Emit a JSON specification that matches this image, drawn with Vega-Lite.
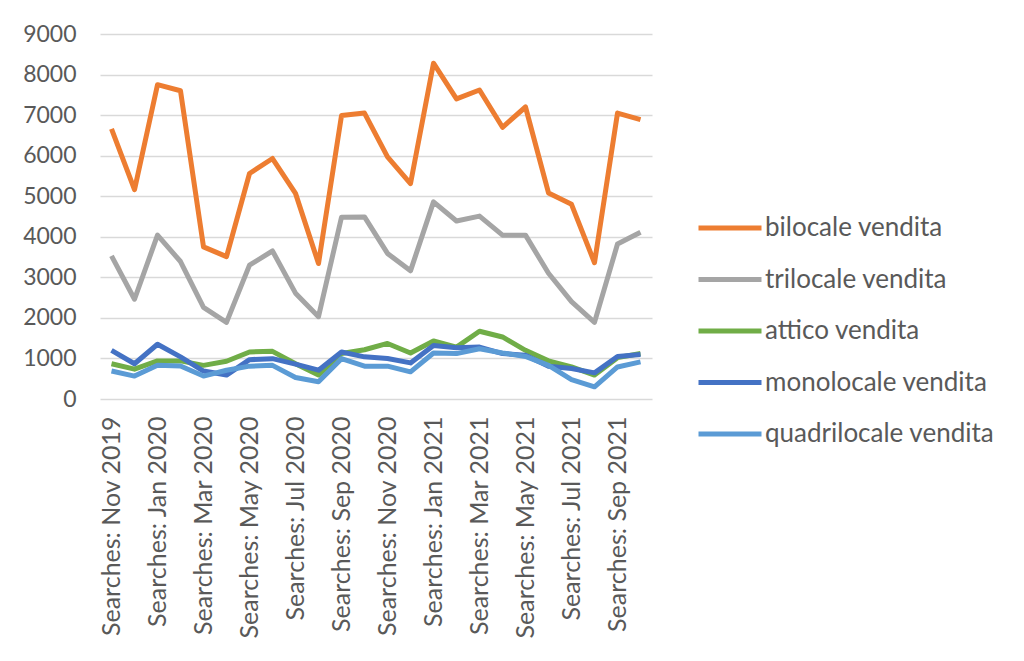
{
  "$schema": "https://vega.github.io/schema/vega-lite/v6.json",
  "width": 552,
  "height": 365,
  "padding": {"left": 22, "top": 23, "right": 5, "bottom": 5},
  "background": "white",
  "config": {
    "view": {"stroke": null},
    "font": "Lato",
    "axis": {"labelFont": "Lato", "labelColor": "#595959", "labelFontSize": 23, "labelLimit": 0}
  },
  "data": {
    "values": [
      {"month": "Searches: Nov 2019", "bilocale vendita": 6660, "trilocale vendita": 3530, "attico vendita": 870, "monolocale vendita": 1200, "quadrilocale vendita": 690},
      {"month": "Searches: Dec 2019", "bilocale vendita": 5160, "trilocale vendita": 2460, "attico vendita": 735, "monolocale vendita": 870, "quadrilocale vendita": 565},
      {"month": "Searches: Jan 2020", "bilocale vendita": 7750, "trilocale vendita": 4040, "attico vendita": 940, "monolocale vendita": 1350, "quadrilocale vendita": 830},
      {"month": "Searches: Feb 2020", "bilocale vendita": 7600, "trilocale vendita": 3390, "attico vendita": 940, "monolocale vendita": 1040, "quadrilocale vendita": 815},
      {"month": "Searches: Mar 2020", "bilocale vendita": 3750, "trilocale vendita": 2260, "attico vendita": 830, "monolocale vendita": 690, "quadrilocale vendita": 565},
      {"month": "Searches: Apr 2020", "bilocale vendita": 3510, "trilocale vendita": 1890, "attico vendita": 930, "monolocale vendita": 590, "quadrilocale vendita": 710},
      {"month": "Searches: May 2020", "bilocale vendita": 5560, "trilocale vendita": 3300, "attico vendita": 1160, "monolocale vendita": 970, "quadrilocale vendita": 810},
      {"month": "Searches: Jun 2020", "bilocale vendita": 5930, "trilocale vendita": 3650, "attico vendita": 1175, "monolocale vendita": 995, "quadrilocale vendita": 830},
      {"month": "Searches: Jul 2020", "bilocale vendita": 5070, "trilocale vendita": 2610, "attico vendita": 870, "monolocale vendita": 860, "quadrilocale vendita": 530},
      {"month": "Searches: Aug 2020", "bilocale vendita": 3340, "trilocale vendita": 2030, "attico vendita": 590, "monolocale vendita": 710, "quadrilocale vendita": 425},
      {"month": "Searches: Sep 2020", "bilocale vendita": 6990, "trilocale vendita": 4480, "attico vendita": 1120, "monolocale vendita": 1160, "quadrilocale vendita": 995},
      {"month": "Searches: Oct 2020", "bilocale vendita": 7050, "trilocale vendita": 4490, "attico vendita": 1215, "monolocale vendita": 1040, "quadrilocale vendita": 810},
      {"month": "Searches: Nov 2020", "bilocale vendita": 5970, "trilocale vendita": 3590, "attico vendita": 1370, "monolocale vendita": 1000, "quadrilocale vendita": 810},
      {"month": "Searches: Dec 2020", "bilocale vendita": 5310, "trilocale vendita": 3160, "attico vendita": 1135, "monolocale vendita": 890, "quadrilocale vendita": 670},
      {"month": "Searches: Jan 2021", "bilocale vendita": 8280, "trilocale vendita": 4860, "attico vendita": 1430, "monolocale vendita": 1320, "quadrilocale vendita": 1135},
      {"month": "Searches: Feb 2021", "bilocale vendita": 7400, "trilocale vendita": 4390, "attico vendita": 1280, "monolocale vendita": 1265, "quadrilocale vendita": 1120},
      {"month": "Searches: Mar 2021", "bilocale vendita": 7620, "trilocale vendita": 4510, "attico vendita": 1670, "monolocale vendita": 1280, "quadrilocale vendita": 1240},
      {"month": "Searches: Apr 2021", "bilocale vendita": 6700, "trilocale vendita": 4040, "attico vendita": 1530, "monolocale vendita": 1120, "quadrilocale vendita": 1135},
      {"month": "Searches: May 2021", "bilocale vendita": 7200, "trilocale vendita": 4040, "attico vendita": 1200, "monolocale vendita": 1080, "quadrilocale vendita": 1050},
      {"month": "Searches: Jun 2021", "bilocale vendita": 5080, "trilocale vendita": 3100, "attico vendita": 940, "monolocale vendita": 810, "quadrilocale vendita": 830},
      {"month": "Searches: Jul 2021", "bilocale vendita": 4800, "trilocale vendita": 2400, "attico vendita": 790, "monolocale vendita": 750, "quadrilocale vendita": 480},
      {"month": "Searches: Aug 2021", "bilocale vendita": 3360, "trilocale vendita": 1890, "attico vendita": 590, "monolocale vendita": 645, "quadrilocale vendita": 300},
      {"month": "Searches: Sep 2021", "bilocale vendita": 7050, "trilocale vendita": 3820, "attico vendita": 1020, "monolocale vendita": 1050, "quadrilocale vendita": 790},
      {"month": "Searches: Oct 2021", "bilocale vendita": 6890, "trilocale vendita": 4110, "attico vendita": 1120, "monolocale vendita": 1100, "quadrilocale vendita": 915}
    ]
  },
  "transform": [
    {"fold": ["bilocale vendita", "trilocale vendita", "attico vendita", "monolocale vendita", "quadrilocale vendita"], "as": ["series", "value"]}
  ],
  "mark": {"type": "line", "strokeWidth": 5, "strokeJoin": "round"},
  "encoding": {
    "x": {
      "field": "month",
      "type": "ordinal",
      "sort": null,
      "scale": {"padding": 0.5},
      "axis": {
        "title": null,
        "values": ["Searches: Nov 2019", "Searches: Jan 2020", "Searches: Mar 2020", "Searches: May 2020", "Searches: Jul 2020", "Searches: Sep 2020", "Searches: Nov 2020", "Searches: Jan 2021", "Searches: Mar 2021", "Searches: May 2021", "Searches: Jul 2021", "Searches: Sep 2021"],
        "labelAngle": -90,
        "labelAlign": "right",
        "labelBaseline": "middle",
        "labelFontSize": 25,
        "labelPadding": 17,
        "labelOverlap": false,
        "ticks": false,
        "domain": false,
        "grid": false
      }
    },
    "y": {
      "field": "value",
      "type": "quantitative",
      "scale": {"domain": [0, 9000], "nice": false},
      "axis": {
        "title": null,
        "values": [0, 1000, 2000, 3000, 4000, 5000, 6000, 7000, 8000, 9000],
        "format": "d",
        "ticks": false,
        "domain": false,
        "labelPadding": 24,
        "gridColor": "#d9d9d9",
        "gridWidth": 1.5
      }
    },
    "color": {
      "field": "series",
      "type": "nominal",
      "sort": ["bilocale vendita", "trilocale vendita", "attico vendita", "monolocale vendita", "quadrilocale vendita"],
      "scale": {
        "domain": ["bilocale vendita", "trilocale vendita", "attico vendita", "monolocale vendita", "quadrilocale vendita"],
        "range": ["#ED7D31", "#A5A5A5", "#70AD47", "#4472C4", "#5B9BD5"]
      },
      "legend": {
        "title": null,
        "orient": "none",
        "legendX": 596,
        "legendY": 160,
        "symbolType": "stroke",
        "symbolStrokeWidth": 5,
        "symbolSize": 3969,
        "labelFont": "Lato",
        "labelFontSize": 26,
        "labelColor": "#595959",
        "labelLimit": 0,
        "labelOffset": 1,
        "rowPadding": 4.5
      }
    }
  }
}
